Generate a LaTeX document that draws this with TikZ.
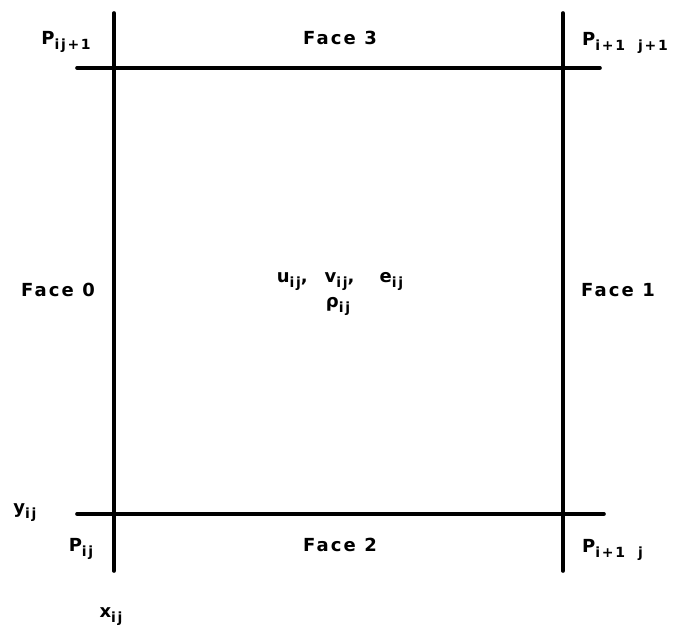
\documentclass[tikz,border=0pt]{standalone}
\usepackage{fontspec}
\setmainfont{DejaVu Sans}
\newfontfamily\lblfont[LetterSpace=12]{DejaVu Sans Bold}
\newcommand\lowsub[1]{\raisebox{-5pt}{\fontsize{14}{14}\selectfont #1}}
\begin{document}
\begin{tikzpicture}[x=1pt,y=-1pt,
  gridline/.style={line width=3.6pt, line cap=round},
  lab/.style={font=\lblfont\fontsize{18}{20}\selectfont, inner sep=0pt, anchor=base}]
\useasboundingbox (0,0) rectangle (678,639);
% grid lines
\coordinate (LT) at (114,13);  \coordinate (LB) at (114,571);
\coordinate (RT) at (563,13);  \coordinate (RB) at (563,571);
\coordinate (TL) at (77,68);   \coordinate (TR) at (600,68);
\coordinate (BL) at (77,514);  \coordinate (BR) at (604,514);
\draw[gridline] (LT) -- (LB);
\draw[gridline] (RT) -- (RB);
\draw[gridline] (TL) -- (TR);
\draw[gridline] (BL) -- (BR);
% labels
\node[lab] (ptl) at (66,45) {P\lowsub{ij+1}};
\node[lab] (f3) at (340,45) {Face 3};
\node[lab, anchor=base west] (ptr) at (582,46) {P\lowsub{i+1\ \ j+1}};
\node[lab] (f0) at (58,297) {Face 0};
\node[lab] (f1) at (618,297) {Face 1};
\node[lab] (uve) at (340,283) {u\lowsub{ij},\ \ v\lowsub{ij},\ \ \ e\lowsub{ij}};
\node[lab] (rho) at (338,308) {ρ\lowsub{ij}};
\node[lab] (yij) at (25,513) {y\lowsub{ij}};
\node[lab] (pbl) at (81,551) {P\lowsub{ij}};
\node[lab] (f2) at (340,551) {Face 2};
\node[lab, anchor=base west] (pbr) at (582,552) {P\lowsub{i+1\ \ j}};
\node[lab] (xij) at (111,617) {x\lowsub{ij}};
\end{tikzpicture}
\end{document}
